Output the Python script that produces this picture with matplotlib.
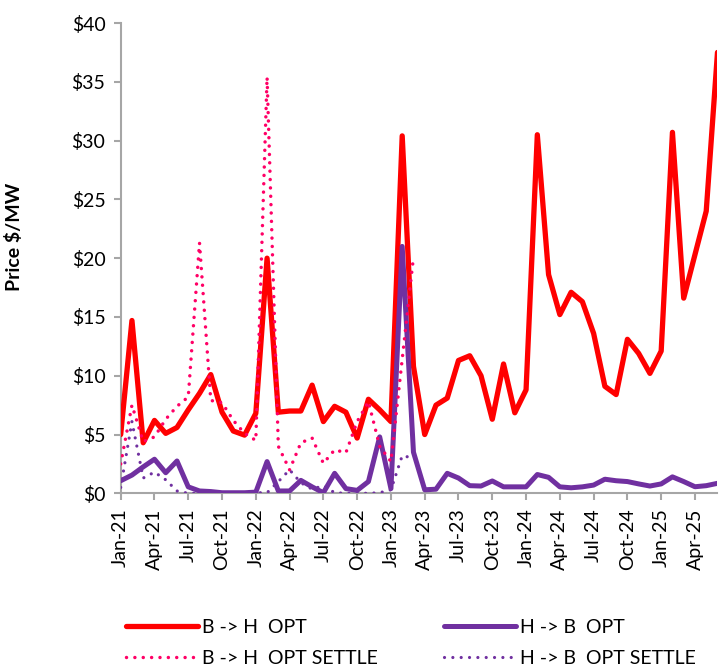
import matplotlib
matplotlib.use('Agg')
import matplotlib.pyplot as plt
import pandas as pd

plt.rcParams['font.family'] = ['Lato', 'DejaVu Sans']

months = pd.date_range('2021-01-01', periods=54, freq='MS').strftime('%b-%y').tolist()

bh_opt = [5.0, 14.7, 4.3, 6.2, 5.1, 5.6, 7.1, 8.5, 10.1, 6.9, 5.3, 4.95,
          6.8, 20.0, 6.9, 7.0, 7.0, 9.2, 6.1, 7.4, 6.9, 4.7, 8.0, 7.1,
          6.1, 30.4, 10.8, 5.0, 7.5, 8.1, 11.3, 11.7, 10.0, 6.3, 11.0, 6.85,
          8.8, 30.5, 18.6, 15.2, 17.1, 16.3, 13.6, 9.1, 8.4, 13.1, 11.9, 10.2,
          12.1, 30.7, 16.6, 20.3, 24.0, 37.5]
hb_opt = [1.07, 1.55, 2.25, 2.9, 1.75, 2.75, 0.55, 0.2, 0.15, 0.05, 0.05, 0.05,
          0.1, 2.7, 0.2, 0.2, 1.1, 0.55, 0.05, 1.7, 0.4, 0.25, 1.0, 4.8,
          0.4, 21.0, 3.5, 0.3, 0.35, 1.7, 1.3, 0.65, 0.62, 1.05, 0.55, 0.55,
          0.55, 1.6, 1.36, 0.55, 0.47, 0.55, 0.7, 1.2, 1.07, 1.0, 0.8, 0.62,
          0.8, 1.4, 1.0, 0.56, 0.65, 0.85]
bh_settle = [2.5, 7.5, 4.4, 4.8, 6.3, 7.4, 8.2, 21.3, 7.9, 7.7, 6.2, 5.1,
             4.5, 35.4, 4.0, 2.0, 4.3, 4.7, 2.55, 3.7, 3.45, 6.1, 7.8, 4.0,
             2.7, 11.4, 20.1]
hb_settle = [0.5, 6.1, 1.3, 1.8, 1.15, 0.2, 0.0, 0.0, 0.0, 0.0, 0.0, 0.0,
             0.05, 0.05, 1.0, 2.0, 0.9, 0.35, 0.65, 0.05, 0.0, 0.0, 0.0, 0.05,
             0.3, 3.2, 3.0]

fig = plt.figure(figsize=(7.24, 6.69), dpi=100)
ax = fig.add_axes([0.1667, 0.2626, 0.8243, 0.703])

x = list(range(len(months)))
xs = x[:len(bh_settle)]

ax.plot(x, bh_opt, color='#FF0000', lw=3.8, solid_joinstyle='round', solid_capstyle='round',
        label='B -> H  OPT', zorder=3)
ax.plot(x, hb_opt, color='#7030A0', lw=3.6, solid_joinstyle='round', solid_capstyle='round',
        label='H -> B  OPT', zorder=4)
ax.plot(xs, bh_settle, color='#FF0066', lw=2.5, linestyle=(0, (0.01, 2.4)), dash_capstyle='round',
        label='B -> H  OPT SETTLE', zorder=5)
ax.plot(xs, hb_settle, color='#7030A0', lw=2.3, linestyle=(0, (0.01, 2.6)), dash_capstyle='round',
        label='H -> B  OPT SETTLE', zorder=5)

ax.set_xlim(0, len(months) - 1)
ax.set_ylim(0, 40)
ax.set_yticks(range(0, 41, 5))
ax.set_yticklabels(['$%d' % v for v in range(0, 41, 5)], fontsize=14)
ax.set_xticks(x[::3])
ax.set_xticklabels(months[::3], rotation=90, fontsize=14)
ax.set_ylabel('Price $/MW', fontsize=14, fontweight='bold')
ax.yaxis.set_label_coords(-0.164, 0.545)

for s in ['top', 'right']:
    ax.spines[s].set_visible(False)
for s in ['left', 'bottom']:
    ax.spines[s].set_color('#A6A6A6')
    ax.spines[s].set_linewidth(1.5)
ax.tick_params(axis='both', color='#A6A6A6', width=1.5, length=5, pad=6)

handles, labels = ax.get_legend_handles_labels()
order = [0, 2, 1, 3]
fig.legend([handles[i] for i in order], [labels[i] for i in order],
           loc='lower left', bbox_to_anchor=(0.158, -0.014), ncol=2, frameon=False,
           fontsize=14, handlelength=3.7, handletextpad=0.2, columnspacing=3.4,
           labelspacing=0.7, borderpad=0.1)

fig.savefig('out.png', dpi=100)
